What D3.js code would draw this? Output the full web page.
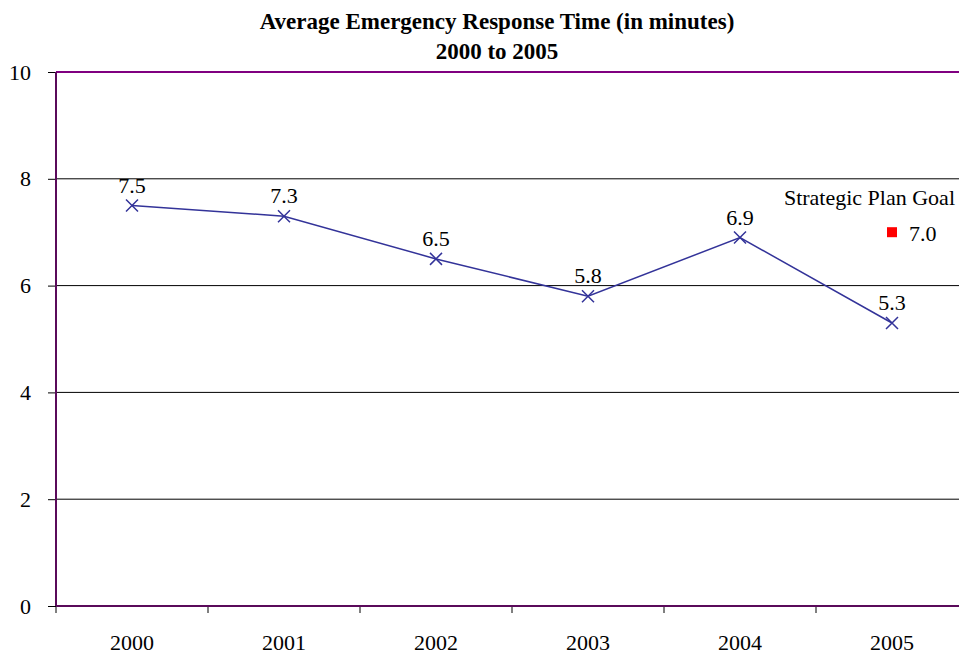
<!DOCTYPE html>
<html>
<head>
<meta charset="utf-8">
<script src="https://cdn.jsdelivr.net/npm/d3@7"></script>
</head>
<body style="margin:0; background:#fff;">
<svg></svg>
<script>
var years = ["2000", "2001", "2002", "2003", "2004", "2005"];
var responseTime = [7.5, 7.3, 6.5, 5.8, 6.9, 5.3];
var goalYear = "2005";
var goalValue = 7.0;
var goalName = "Strategic Plan Goal";
var yTicks = [0, 2, 4, 6, 8, 10];

var FONT = "Liberation Serif";

var svgWidth = 959, svgHeight = 654;
var margin = { top: 72, right: -9, bottom: 48, left: 56 };
var width = svgWidth - margin.left - margin.right;
var height = svgHeight - margin.top - margin.bottom;

var svg = d3.select("svg")
  .attr("width", svgWidth)
  .attr("height", svgHeight)
  .style("display", "block");

// title
var title = svg.append("text")
  .attr("text-anchor", "middle")
  .style("font-family", FONT)
  .style("font-size", "23px")
  .style("font-weight", "bold");
title.append("tspan").attr("x", 497).attr("y", 29).text("Average Emergency Response Time (in minutes)");
title.append("tspan").attr("x", 497).attr("y", 59).text("2000 to 2005");

var g = svg.append("g")
  .attr("transform", "translate(" + margin.left + "," + margin.top + ")");

var x = d3.scaleBand().domain(years).range([0, width]);
var y = d3.scaleLinear().domain([0, 10]).range([height, 0]);

// gridlines
g.append("g")
  .selectAll("line")
  .data(yTicks.filter(function(d) { return d > 0 && d < 10; }))
  .enter().append("line")
  .attr("x1", 0).attr("x2", width)
  .attr("y1", function(d) { return y(d); })
  .attr("y2", function(d) { return y(d); })
  .attr("stroke", "#000")
  .attr("stroke-width", 1);

// top border at 10
g.append("line")
  .attr("x1", 0).attr("x2", width)
  .attr("y1", y(10)).attr("y2", y(10))
  .attr("stroke", "#800080")
  .attr("stroke-width", 2);

// y axis
var yAxis = g.append("g")
  .call(d3.axisLeft(y).tickValues(yTicks).tickSize(8).tickPadding(17).tickFormat(d3.format("d")));
yAxis.select(".domain").remove();
yAxis.selectAll("line").attr("stroke", "#000");
yAxis.selectAll("text")
  .style("font-family", FONT)
  .style("font-size", "22px")
  .attr("fill", "#000");

// x axis
var xAxis = g.append("g")
  .attr("transform", "translate(0," + height + ")")
  .call(d3.axisBottom(x).tickSize(0));
xAxis.select(".domain").remove();
xAxis.selectAll("text")
  .attr("y", 44)
  .attr("dy", 0)
  .style("font-family", FONT)
  .style("font-size", "22px")
  .attr("fill", "#000");

// x tick marks between categories
var bounds = years.map(function(d) { return x(d); }).concat([width]);
g.append("g")
  .selectAll("line")
  .data(bounds)
  .enter().append("line")
  .attr("x1", function(d) { return d; })
  .attr("x2", function(d) { return d; })
  .attr("y1", height)
  .attr("y2", height + 7)
  .attr("stroke", "#000");

// axis lines
g.append("line")
  .attr("x1", 0).attr("x2", 0)
  .attr("y1", y(10)).attr("y2", y(0))
  .attr("stroke", "#5a0a5a")
  .attr("stroke-width", 2);
g.append("line")
  .attr("x1", 0).attr("x2", width)
  .attr("y1", y(0)).attr("y2", y(0))
  .attr("stroke", "#5a0a5a")
  .attr("stroke-width", 2);

var cx = function(d) { return x(d) + x.bandwidth() / 2; };

var data = years.map(function(d, i) { return { year: d, value: responseTime[i] }; });

var line = d3.line()
  .x(function(d) { return cx(d.year); })
  .y(function(d) { return y(d.value); });

g.append("path")
  .datum(data)
  .attr("fill", "none")
  .attr("stroke", "#333399")
  .attr("stroke-width", 1.5)
  .attr("d", line);

// x markers
var s = 6;
var marks = g.append("g").selectAll("g")
  .data(data)
  .enter().append("g")
  .attr("transform", function(d) { return "translate(" + cx(d.year) + "," + y(d.value) + ")"; });
marks.append("path")
  .attr("d", "M" + (-s) + "," + (-s) + "L" + s + "," + s + "M" + (-s) + "," + s + "L" + s + "," + (-s))
  .attr("stroke", "#333399")
  .attr("stroke-width", 1.5);

// data labels
g.append("g").selectAll("text")
  .data(data)
  .enter().append("text")
  .attr("x", function(d) { return cx(d.year); })
  .attr("y", function(d) { return y(d.value) - 13; })
  .attr("text-anchor", "middle")
  .style("font-family", FONT)
  .style("font-size", "22px")
  .text(function(d) { return d3.format(".1f")(d.value); });

// goal point
g.append("rect")
  .attr("x", cx(goalYear) - 5)
  .attr("y", y(goalValue) - 5)
  .attr("width", 10)
  .attr("height", 10)
  .attr("fill", "#ff0000");

g.append("text")
  .attr("x", cx(goalYear) + 17)
  .attr("y", y(goalValue) + 9)
  .style("font-family", FONT)
  .style("font-size", "22px")
  .text(d3.format(".1f")(goalValue));

g.append("text")
  .attr("x", 955 - margin.left)
  .attr("y", y(goalValue) - 27)
  .attr("text-anchor", "end")
  .style("font-family", FONT)
  .style("font-size", "22px")
  .text(goalName);
</script>
</body>
</html>
